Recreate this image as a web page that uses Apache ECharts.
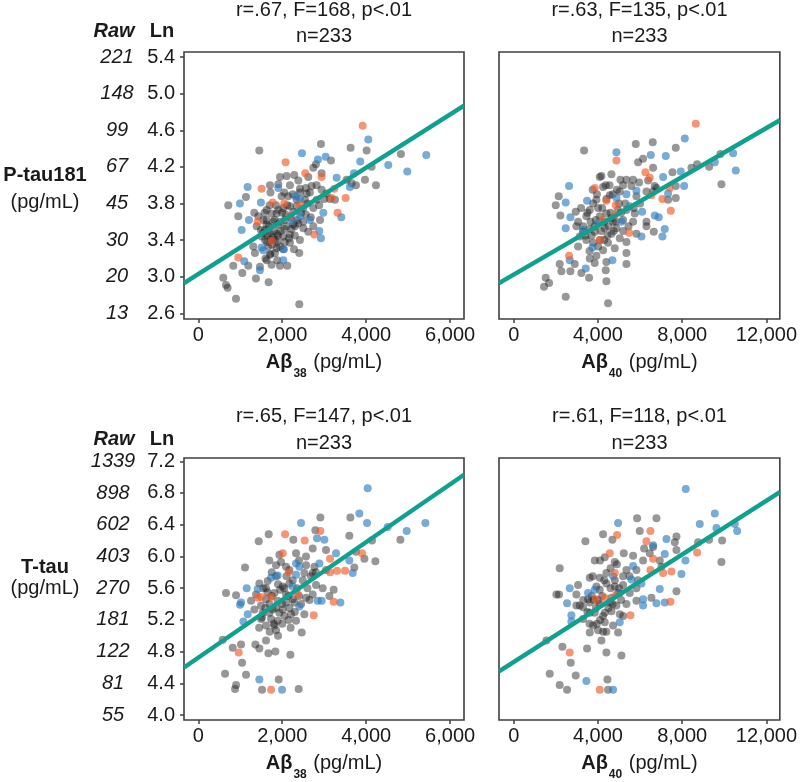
<!DOCTYPE html>
<html><head><meta charset="utf-8">
<script src="https://cdn.jsdelivr.net/npm/echarts@6/dist/echarts.min.js"></script>
<style>html,body{margin:0;padding:0;background:#fff}#c{width:800px;height:782px}</style>
</head><body><div id="c"></div>
<script>
// ---------- text / tick data ----------
const titles = ['r=.67, F=168, p<.01', 'r=.63, F=135, p<.01', 'r=.65, F=147, p<.01', 'r=.61, F=118, p<.01'];
const nLabel = 'n=233';
const rowLabels = ['P-tau181', 'T-tau'];
const unitLabel = '(pg/mL)';
const xNames = ['38', '40'];
const xTicks38 = [0, 2000, 4000, 6000];
const xTicks40 = [0, 4000, 8000, 12000];
const lnTicksP = [2.6, 3.0, 3.4, 3.8, 4.2, 4.6, 5.0, 5.4];
const rawTicksP = ['13', '20', '30', '45', '67', '99', '148', '221'];
const lnTicksT = [4.0, 4.4, 4.8, 5.2, 5.6, 6.0, 6.4, 6.8, 7.2];
const rawTicksT = ['55', '81', '122', '181', '270', '403', '602', '898', '1339'];
const xRange38 = [-340, 6330];
const xRange40 = [-698, 12637];
const yRangeP = [2.538, 5.455];
const yRangeT = [3.938, 7.241];

// ---------- regression line endpoints ----------
const fitTL = [[-340, 2.93], [6330, 4.87]];
const fitTR = [[-698, 2.93], [12637, 4.71]];
const fitBL = [[-340, 4.60], [6330, 7.03]];
const fitBR = [[-698, 4.55], [12637, 6.81]];

// ---------- P-tau181 vs Abeta38 ----------
const tlOrange = [[3915,4.65],[2081,4.25],[2549,4.13],[2938,4.09],[1509,3.96],[1771,3.81],[2049,3.80],[2422,3.78],[2184,3.66],[3177,3.86],[3240,3.96],[3510,3.86],[3319,3.70],[1414,3.60],[2764,3.46],[1747,3.39],[953,3.21]];
const tlBlue = [[4050,4.50],[2470,4.35],[3034,4.31],[2851,4.28],[5431,4.33],[4526,4.22],[4979,4.15],[3859,4.26],[3296,4.08],[1176,3.98],[1906,3.97],[993,3.80],[1493,3.81],[2319,3.88],[2422,3.85],[3613,3.98],[3708,4.13],[2978,3.70],[3407,3.65],[1207,3.62],[1033,3.51],[2422,3.66],[2240,3.61],[2660,3.62],[2883,3.50],[2922,3.42],[1509,3.32],[2025,3.18],[1469,3.07],[1096,3.17],[1549,3.29],[2041,3.30]];
const tlGrey = [[1454,4.38],[2922,4.45],[3629,4.41],[4010,4.38],[4828,4.34],[3161,4.27],[2803,4.23],[2740,4.19],[2105,4.10],[1946,4.09],[2287,4.11],[2383,4.05],[2565,3.97],[2819,4.00],[1708,4.00],[1906,4.01],[2184,4.00],[2422,3.96],[2581,3.91],[2938,3.95],[3057,3.91],[3137,3.85],[3256,3.84],[3534,4.06],[3653,4.02],[3756,4.00],[3971,4.06],[4129,4.20],[4233,4.00],[715,3.78],[953,3.66],[1136,3.87],[1334,3.70],[1628,3.73],[1866,3.69],[2025,3.75],[2263,3.71],[2502,3.75],[2740,3.75],[1628,3.62],[1787,3.60],[1906,3.57],[2105,3.55],[2263,3.57],[2502,3.53],[2740,3.55],[1589,3.51],[1708,3.47],[1882,3.47],[2184,3.46],[2422,3.40],[2621,3.49],[1311,3.33],[1668,3.33],[1866,3.31],[2184,3.37],[1827,3.26],[1708,3.24],[1628,3.18],[1469,3.11],[1747,3.13],[1946,3.12],[2120,3.12],[834,3.12],[1049,3.04],[1192,3.12],[1350,3.26],[2406,3.26],[596,2.99],[699,2.88],[660,2.91],[1374,2.98],[1676,2.94],[898,2.76],[2406,2.70],[1390,3.55],[1509,3.44],[2025,3.44],[1430,3.66],[1986,3.88],[2144,3.88],[2343,3.84],[2541,3.84],[2700,3.99],[2819,3.84],[2621,4.09],[2938,4.13],[1827,3.40],[2303,3.55],[1628,3.57],[2065,3.62],[1906,3.73],[1747,3.69],[2184,3.77],[2343,3.77],[1493,3.51],[1731,3.40],[1946,3.33],[1589,3.40],[1550,3.62],[1680,3.55],[1800,3.50],[1950,3.60],[2050,3.52],[2200,3.65],[2350,3.62],[1900,3.45],[1760,3.35],[2000,3.70],[2120,3.78],[2250,3.90],[2450,3.70],[2600,3.80],[1850,3.78],[1650,3.45],[1720,3.25],[2060,3.38],[2300,3.45],[2500,3.60],[1580,3.70],[1700,3.78],[1820,3.62],[1960,3.50],[2080,3.68],[2220,3.52],[2380,3.58],[1640,3.38],[1780,3.43],[1880,3.38],[2020,3.30],[2160,3.42],[2280,3.30],[1540,3.48],[2560,3.68],[2680,3.65],[2880,3.78],[3000,3.85],[1720,3.92],[2050,3.92],[2420,3.92],[2660,3.92],[2900,3.62],[1600,3.20],[1880,3.18]];

// ---------- P-tau181 vs Abeta40 ----------
const trOrange = [[8646,4.67],[4877,4.27],[3848,3.97],[6255,4.14],[6461,4.08],[6540,3.89],[7063,3.85],[7411,3.97],[7459,3.72],[4402,3.83],[4846,3.78],[4798,3.67],[4212,3.62],[5480,3.48],[4086,3.40],[2629,3.23]];
const trBlue = [[8124,4.51],[4877,4.36],[6508,4.33],[7221,4.32],[10419,4.35],[9549,4.25],[10546,4.16],[7934,4.15],[8093,3.99],[7094,4.09],[2629,3.99],[2470,3.81],[3484,3.83],[5353,3.90],[5828,3.94],[6097,3.71],[6698,3.67],[6889,3.65],[4877,3.86],[5115,3.60],[2692,3.65],[2470,3.53],[7173,3.52],[7063,3.44],[6065,3.44],[3737,3.32],[4687,3.18],[3421,3.09],[2661,3.18],[4006,3.59],[3294,3.51],[5511,3.77],[7332,3.91]];
const trGrey = [[3341,4.38],[5796,4.45],[6603,4.47],[7696,4.41],[5907,4.25],[6144,4.29],[6619,4.19],[4165,4.10],[4640,4.12],[4371,4.00],[5068,4.06],[5353,4.06],[5669,4.06],[5954,4.03],[6382,4.05],[6698,3.99],[7538,4.14],[7696,3.99],[8441,4.19],[8710,4.23],[9280,4.20],[9818,4.34],[9865,4.01],[2138,3.88],[1996,3.78],[2217,3.67],[2945,3.71],[3057,3.60],[3769,3.80],[4006,3.75],[3611,3.73],[4561,3.89],[5036,3.93],[5590,3.99],[6303,3.93],[6778,3.97],[7332,3.84],[7696,3.86],[6619,3.93],[5353,3.73],[5748,3.69],[6303,3.60],[5194,3.62],[4640,3.64],[4402,3.69],[2977,3.55],[3294,3.49],[3611,3.52],[3848,3.49],[4323,3.53],[4640,3.47],[4877,3.53],[5036,3.42],[5353,3.38],[5828,3.47],[6651,3.49],[6303,3.55],[3452,3.40],[3769,3.37],[4244,3.29],[4481,3.37],[4798,3.31],[5353,3.26],[3057,3.33],[3927,3.23],[3611,3.20],[4402,3.16],[5353,3.14],[3848,3.15],[2185,3.14],[2898,3.14],[2265,3.06],[2692,3.06],[3215,3.04],[3579,2.99],[4371,3.07],[4402,2.95],[1520,2.99],[1441,2.89],[1679,2.93],[2470,2.78],[4481,2.71],[4086,4.09],[4244,3.98],[5194,4.00],[5828,3.88],[3927,3.84],[4086,3.66],[4957,3.73],[3136,3.44],[4006,3.33],[3452,3.66],[4719,3.60],[5669,3.60],[3700,3.45],[4200,3.75],[4600,3.70],[5000,3.80],[3300,3.55],[4100,3.40],[4500,3.55],[3900,3.62],[4700,3.90],[5200,3.50],[3600,3.28],[4300,3.60],[3500,3.70],[3850,3.55],[4150,3.50],[4450,3.45],[4750,3.50],[3400,3.45],[3950,3.90],[4400,3.85],[4900,3.95],[5300,3.80],[5700,3.75],[6000,3.80],[3200,3.75],[3650,3.60],[4300,3.40],[4850,3.60],[5100,3.70],[5450,3.55],[3750,3.95],[4550,4.00]];

// ---------- T-tau vs Abeta38 ----------
const blOrange = [[2067,6.28],[2908,6.32],[2535,6.20],[2011,6.04],[3139,5.97],[3901,6.04],[3139,5.80],[3305,5.82],[3496,5.82],[2154,5.80],[2369,5.52],[1416,5.48],[1734,5.49],[1495,5.49],[3226,5.43],[2750,5.26],[963,4.79],[1734,4.32]];
const blBlue = [[4036,6.86],[3837,6.54],[4020,6.42],[5410,6.42],[4965,6.32],[4512,6.37],[2448,6.42],[2829,6.23],[3004,6.21],[3282,6.04],[3599,5.95],[3679,5.79],[2329,5.91],[2408,5.87],[1892,5.76],[1154,5.60],[1416,5.59],[2885,5.91],[2940,5.44],[3385,5.42],[2249,5.62],[1019,5.42],[995,5.39],[1178,5.27],[1074,5.18],[2845,5.44],[2408,5.37],[1455,4.45],[1995,4.32],[2329,5.77],[1734,5.73]];
const blGrey = [[2908,6.49],[3623,6.49],[2789,6.33],[1678,6.28],[1440,6.19],[2265,6.21],[3599,6.26],[4139,6.20],[4814,6.21],[2726,6.10],[3043,6.08],[1932,6.02],[2329,6.04],[2567,6.00],[1694,5.95],[1972,5.93],[2091,5.87],[2567,5.89],[2766,5.87],[3043,5.83],[3758,6.06],[3957,5.97],[4219,5.94],[3718,5.86],[1114,5.86],[900,5.51],[661,5.54],[1455,5.66],[1654,5.69],[1852,5.75],[2011,5.62],[2170,5.66],[2488,5.70],[2686,5.75],[2964,5.60],[3226,5.58],[1614,5.60],[1813,5.54],[2091,5.52],[2249,5.46],[2567,5.48],[2726,5.52],[1495,5.38],[1694,5.40],[1892,5.44],[2091,5.42],[2289,5.42],[2527,5.27],[1257,5.44],[1336,5.33],[1519,5.23],[1734,5.21],[1892,5.19],[2051,5.25],[2210,5.27],[1614,5.13],[1813,5.13],[2329,5.19],[2464,5.04],[1614,4.94],[582,4.95],[820,4.85],[1019,4.89],[1360,4.89],[1455,4.84],[1670,4.78],[1837,4.80],[2194,4.76],[1043,4.66],[638,4.52],[1138,4.51],[900,4.38],[876,4.33],[1519,4.32],[1916,4.45],[2392,4.33],[1376,5.52],[1773,5.33],[2011,5.33],[2726,5.79],[2527,5.79],[2170,5.83],[1852,5.89],[1535,5.29],[1932,5.29],[1694,5.29],[2170,5.35],[2805,5.64],[3123,5.50],[1614,5.46],[1495,5.21],[1852,5.07],[1750,5.50],[1950,5.58],[2150,5.50],[2350,5.60],[1600,5.35],[1800,5.15],[2000,5.40],[2250,5.70],[1900,5.65],[2400,5.50],[1650,5.55],[1850,5.35],[2050,5.60],[2150,5.20],[2300,5.30],[1700,5.05],[1900,5.00],[2450,5.40],[2600,5.60],[2800,5.80],[1550,5.60],[2100,5.75],[1750,5.80],[2400,5.95],[2650,5.45],[1450,5.10],[2000,5.15],[2200,5.10]];

// ---------- T-tau vs Abeta40 ----------
const brOrange = [[4909,6.27],[6492,6.32],[6303,6.19],[4561,6.04],[6619,5.97],[8710,6.05],[6492,5.83],[7094,5.79],[7490,5.81],[4798,5.79],[3896,5.46],[4323,5.48],[4846,5.51],[5542,5.26],[7443,5.43],[2660,4.79],[4086,4.32]];
const brBlue = [[8171,6.85],[9549,6.54],[8836,6.41],[9628,6.36],[10499,6.41],[10609,6.32],[4957,6.42],[7252,6.22],[6619,6.14],[7173,6.03],[8156,5.95],[7965,5.78],[2661,5.60],[3531,5.54],[4719,5.75],[5669,5.88],[5590,5.71],[6065,5.66],[6936,5.59],[6778,5.41],[7173,5.42],[6144,5.38],[6144,5.46],[2534,5.41],[2740,5.26],[2740,5.18],[5036,5.17],[3452,4.43],[4719,4.32],[3848,5.58],[5036,5.54]];
const brGrey = [[5859,6.48],[6778,6.48],[5986,6.32],[7728,6.25],[9897,6.20],[9280,6.21],[8757,6.18],[4244,6.28],[4687,6.21],[3405,6.19],[6192,6.10],[6619,6.12],[7728,6.08],[9865,5.93],[5226,6.04],[5669,6.01],[3848,5.95],[4323,5.99],[4798,5.93],[2185,5.85],[5828,5.83],[6144,5.95],[6936,5.95],[7728,5.56],[3611,5.73],[4086,5.73],[4402,5.79],[5194,5.75],[4402,5.66],[5194,5.64],[3057,5.64],[2027,5.52],[2154,5.52],[2977,5.52],[3531,5.46],[4086,5.58],[4798,5.62],[5511,5.54],[5828,5.60],[3136,5.38],[3611,5.42],[4561,5.42],[4877,5.38],[5353,5.40],[5828,5.44],[6540,5.48],[3848,5.29],[4323,5.29],[4640,5.31],[5036,5.27],[3294,5.21],[3769,5.13],[4323,5.17],[3611,5.04],[4006,5.07],[4957,5.04],[4165,4.94],[1552,4.94],[2312,4.86],[3484,4.84],[4402,4.79],[5115,4.75],[2708,4.66],[1710,4.52],[2185,4.38],[2534,4.32],[2945,4.50],[4450,4.45],[4481,4.32],[3611,5.29],[4086,5.40],[4640,5.48],[3927,5.62],[4957,5.54],[3294,5.36],[2977,5.38],[4244,5.25],[4719,5.13],[5353,5.83],[6461,6.04],[7649,6.18],[7015,5.87],[4200,5.50],[4500,5.35],[3800,5.45],[4100,5.20],[4600,5.60],[5100,5.45],[3500,5.30],[4400,5.05],[3900,5.35],[4800,5.70],[3700,5.50],[4000,5.45],[4300,5.70],[4700,5.40],[5000,5.60],[3300,5.45],[3600,5.15],[3950,5.15],[4250,5.05],[5200,5.25],[5500,5.75],[5900,5.70],[4900,5.90],[4600,5.85],[3750,5.75],[4100,5.95]];

// ---------- styling ----------
const FONT = '"Liberation Sans", Arial, Helvetica, sans-serif';
const TXT = '#1a1a1a';
const FRAME = '#3f3f3f';
const GREY = 'rgba(30,30,30,0.58)';
const BLUE = 'rgba(38,120,190,0.78)';
const ORANGE = 'rgba(242,92,42,0.82)';
const TEAL = '#10a08e';

const grids = [
  {left: 184, top: 52, width: 280, height: 267},
  {left: 499, top: 52, width: 281, height: 267},
  {left: 184, top: 458, width: 280, height: 266},
  {left: 499, top: 458, width: 281, height: 266}
];

function fmtX(v) { return Number(v).toLocaleString('en-US'); }
function rawFmt(lnTicks, rawTicks) {
  return function (v) {
    const i = lnTicks.findIndex(t => Math.abs(t - v) < 1e-6);
    return i >= 0 ? rawTicks[i] : '';
  };
}

const xNameRich = {
  a: {fontFamily: FONT, fontSize: 20, fontWeight: 'bold', color: TXT, verticalAlign: 'middle'},
  s: {fontFamily: FONT, fontSize: 12, fontWeight: 'bold', color: TXT, verticalAlign: 'middle', padding: [23, 1, 0, 1]},
  n: {fontFamily: FONT, fontSize: 20, color: TXT, verticalAlign: 'middle'}
};

function makeX(gi, range, ticks, sub) {
  return {
    gridIndex: gi, type: 'value', min: range[0], max: range[1],
    axisLine: {show: false, onZero: false},
    splitLine: {show: false},
    axisTick: {show: true, customValues: ticks, length: 4, lineStyle: {color: FRAME, width: 1.5}},
    axisLabel: {customValues: ticks, margin: 6, fontFamily: FONT, fontSize: 20, color: TXT, formatter: fmtX},
    name: '{a|Aβ}{s|' + sub + '}{n| (pg/mL)}',
    nameLocation: 'middle', nameGap: 26,
    nameTextStyle: {rich: xNameRich}
  };
}
function makeLnY(gi, range, ticks, showLabels) {
  return {
    gridIndex: gi, type: 'value', min: range[0], max: range[1], position: 'left',
    axisLine: {show: false, onZero: false}, splitLine: {show: false},
    axisTick: {show: showLabels, customValues: ticks, length: 4, lineStyle: {color: FRAME, width: 1.5}},
    axisLabel: {show: showLabels, customValues: ticks, margin: 9, fontFamily: FONT, fontSize: 20, color: TXT,
      formatter: v => Number(v).toFixed(1)}
  };
}
function makeRawY(gi, range, lnTicks, rawTicks, margin) {
  return {
    gridIndex: gi, type: 'value', min: range[0], max: range[1], position: 'left',
    axisLine: {show: false, onZero: false}, splitLine: {show: false}, axisTick: {show: false},
    axisLabel: {customValues: lnTicks, margin: margin, align: 'center', fontFamily: FONT, fontSize: 20,
      fontStyle: 'italic', color: TXT, formatter: rawFmt(lnTicks, rawTicks)}
  };
}
function scatter(gi, data, color) {
  return {type: 'scatter', xAxisIndex: gi, yAxisIndex: gi, data: data, symbolSize: 8,
    itemStyle: {color: color}, silent: true, z: 2};
}
function fitLine(gi, data) {
  return {type: 'line', xAxisIndex: gi, yAxisIndex: gi, data: data, showSymbol: false, symbol: 'none',
    lineStyle: {color: TEAL, width: 4.5}, silent: true, z: 5, animation: false};
}
function txt(x, y, text, font, align) {
  return {type: 'text', x: x, y: y, silent: true,
    style: {text: text, font: font, fill: TXT, align: align || 'center', verticalAlign: 'middle',
      textAlign: align || 'center', textVerticalAlign: 'middle'}};
}
const F20 = '20px ' + FONT;
const F20B = 'bold 20px ' + FONT;
const F20BI = 'italic bold 20px ' + FONT;

const panelCenters = [324, 639.5, 324, 639.5];
const titleY = [[10, 36], [10, 36], [416.5, 443], [416.5, 443]];

const graphics = [];
for (let i = 0; i < 4; i++) {
  graphics.push(txt(panelCenters[i], titleY[i][0], titles[i], F20));
  graphics.push(txt(panelCenters[i], titleY[i][1], nLabel, F20));
}
graphics.push(txt(114, 31.5, 'Raw', F20BI));
graphics.push(txt(162, 31.5, 'Ln', F20B));
graphics.push(txt(114, 439, 'Raw', F20BI));
graphics.push(txt(162, 439, 'Ln', F20B));
graphics.push(txt(45, 175, rowLabels[0], F20B));
graphics.push(txt(45, 202, unitLabel, F20));
graphics.push(txt(45, 567.5, rowLabels[1], F20B));
graphics.push(txt(45, 588.5, unitLabel, F20));

const option = {
  animation: false,
  backgroundColor: '#ffffff',
  textStyle: {fontFamily: FONT},
  grid: grids.map(g => Object.assign({show: true, borderColor: FRAME, borderWidth: 1.6, backgroundColor: 'transparent'}, g)),
  xAxis: [
    makeX(0, xRange38, xTicks38, xNames[0]),
    makeX(1, xRange40, xTicks40, xNames[1]),
    makeX(2, xRange38, xTicks38, xNames[0]),
    makeX(3, xRange40, xTicks40, xNames[1])
  ],
  yAxis: [
    makeLnY(0, yRangeP, lnTicksP, true),
    makeLnY(1, yRangeP, lnTicksP, false),
    makeLnY(2, yRangeT, lnTicksT, true),
    makeLnY(3, yRangeT, lnTicksT, false),
    makeRawY(0, yRangeP, lnTicksP, rawTicksP, 67),
    makeRawY(2, yRangeT, lnTicksT, rawTicksT, 71)
  ],
  series: [
    scatter(0, tlGrey, GREY), scatter(0, tlBlue, BLUE), scatter(0, tlOrange, ORANGE), fitLine(0, fitTL),
    scatter(1, trGrey, GREY), scatter(1, trBlue, BLUE), scatter(1, trOrange, ORANGE), fitLine(1, fitTR),
    scatter(2, blGrey, GREY), scatter(2, blBlue, BLUE), scatter(2, blOrange, ORANGE), fitLine(2, fitBL),
    scatter(3, brGrey, GREY), scatter(3, brBlue, BLUE), scatter(3, brOrange, ORANGE), fitLine(3, fitBR)
  ],
  graphic: graphics
};
const chart = echarts.init(document.getElementById('c'), null, {renderer: 'canvas'});
chart.setOption(option);
</script>
</body></html>
